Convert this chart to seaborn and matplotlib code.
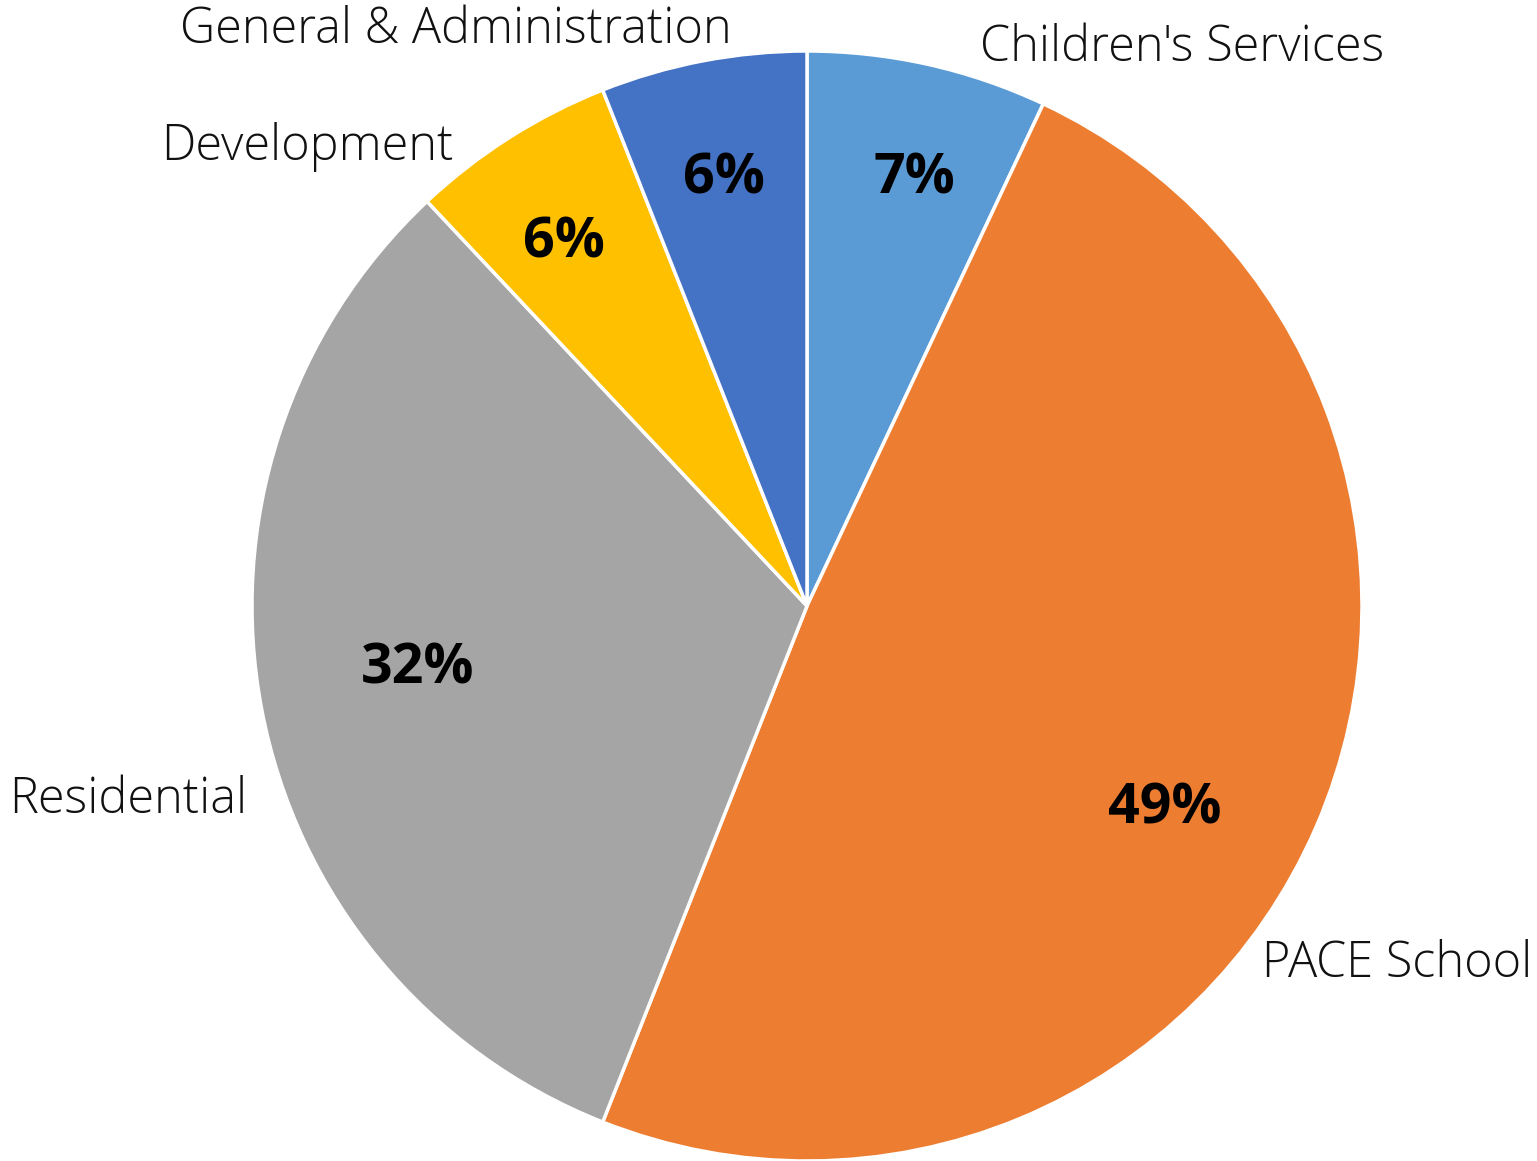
import matplotlib
matplotlib.use("Agg")
import matplotlib.pyplot as plt
import seaborn as sns

# ---- data ----
categories = ["Children's Services", "PACE School", "Residential", "Development", "General & Administration"]
shares = [7, 49, 32, 6, 6]
colors = ["#5B9BD5", "#ED7D31", "#A5A5A5", "#FFC000", "#4472C4"]

# ---- layout (pixel positions in the 1537x1161 canvas) ----
W, H = 1537, 1161
CX, CY, R = 807, 606, 555
name_pos = [(1182, 61), (1397, 977), (128, 813), (307, 160), (456, 43)]
pct_pos = [(914, 193), (1165, 823), (418, 683), (564, 258), (724, 193)]

sns.set_theme(style="white")
plt.rcParams['font.family'] = ['Open Sans', 'DejaVu Sans']

fig = plt.figure(figsize=(W / 100, H / 100), dpi=100)
ax = fig.add_axes([0, 0, 1, 1])
ax.pie(shares, colors=colors, startangle=90, counterclock=False,
       wedgeprops=dict(edgecolor="white", linewidth=2.5))
ax.set_xlim(-CX / R, (W - CX) / R)
ax.set_ylim(-(H - CY) / R, CY / R)
ax.set_aspect('auto')
ax.axis('off')

def to_data(px, py):
    return (px - CX) / R, (CY - py) / R

for name, (px, py) in zip(categories, name_pos):
    x, y = to_data(px, py)
    ax.text(x, y, name, ha='center', va='baseline', fontsize=35,
            fontweight='light', color='#111111')

for v, (px, py) in zip(shares, pct_pos):
    x, y = to_data(px, py)
    ax.text(x, y, f"{v}%", ha='center', va='baseline', fontsize=40,
            fontweight='bold', color='black')

fig.savefig("out.png", dpi=100, facecolor='white')
